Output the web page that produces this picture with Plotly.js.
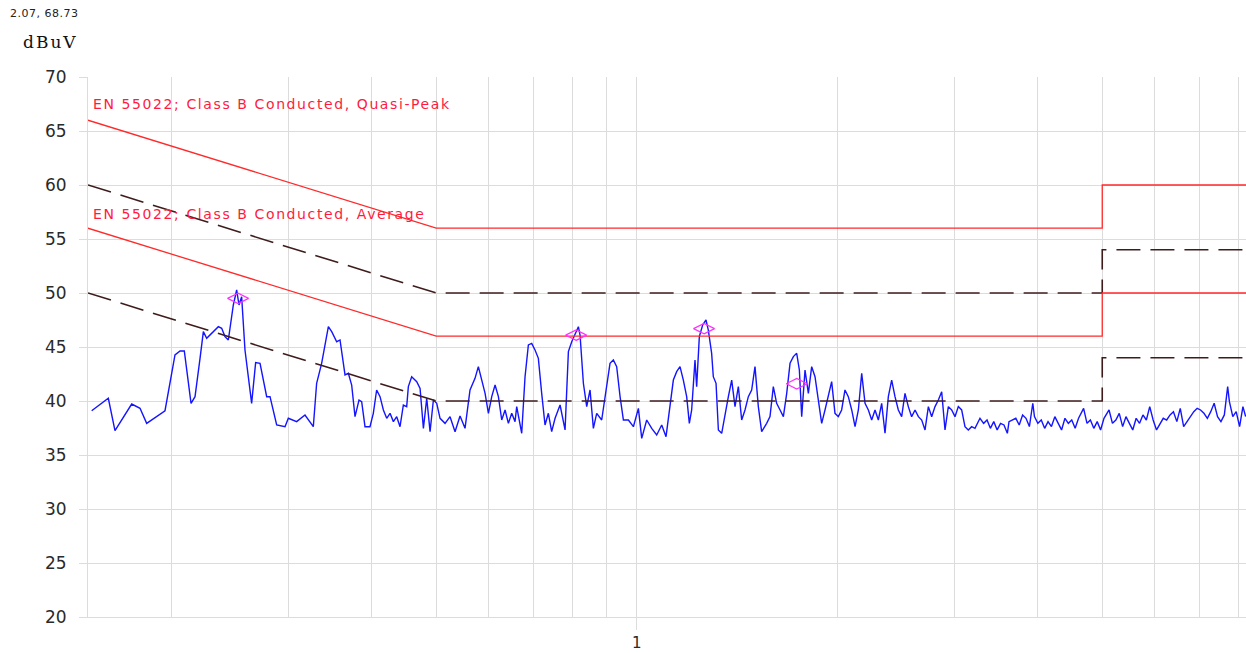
<!DOCTYPE html>
<html><head><meta charset="utf-8">
<script src="https://cdn.plot.ly/plotly-3.0.1.min.js"></script>
<style>
html,body{margin:0;padding:0;background:#fff;}
#chart{width:1246px;height:653px;}
g.annotation[data-index="0"] text{letter-spacing:0.5px;}
g.annotation[data-index="1"] text{letter-spacing:2px;}
g.annotation[data-index="2"] text, g.annotation[data-index="3"] text{letter-spacing:1.6px;}
</style></head><body><div id="chart"></div>
<script>
const band1LogF = [-0.8184,-0.7934,-0.7834,-0.7583,-0.7458,-0.7358,-0.7083,-0.6933,-0.6857,-0.6793,-0.6692,-0.6632,-0.6557,-0.6507,-0.6457,-0.6382,-0.6282,-0.6232,-0.6182,-0.6132,-0.6057,-0.6007,-0.5972,-0.5932,-0.5882,-0.5782,-0.5722,-0.5656,-0.5556,-0.5506,-0.5406,-0.5281,-0.5231,-0.5106,-0.4981,-0.4856,-0.4806,-0.4731,-0.4630,-0.4580,-0.4505,-0.4455,-0.4380,-0.4330,-0.4280,-0.4230,-0.4170,-0.4130,-0.4080,-0.4005,-0.3955,-0.3905];
const band1Level = [39.1,40.25,37.25,39.72,39.32,37.93,39.1,44.26,44.63,44.63,39.78,40.4,43.95,46.42,45.8,46.27,46.88,46.73,45.96,45.65,48.89,50.28,48.89,49.66,44.72,39.78,43.55,43.49,40.4,40.4,37.78,37.62,38.4,38.09,38.7,37.62,41.64,43.49,46.88,46.42,45.49,45.65,42.41,42.56,41.48,38.55,40.09,39.94,37.62,37.62,38.86,41.02];
const band2LogF = [-0.3854,-0.3804,-0.3754,-0.3704,-0.3654,-0.3604,-0.3554,-0.3504,-0.3454,-0.3429,-0.3379,-0.3303,-0.3253,-0.3203,-0.3153,-0.3103,-0.3053,-0.3003,-0.2953,-0.2878,-0.2803,-0.2728,-0.2653,-0.2578,-0.2503,-0.2428,-0.2378,-0.2327,-0.2277,-0.2227,-0.2177,-0.2127,-0.2077,-0.2027,-0.1977,-0.1927,-0.1877,-0.1827,-0.1802,-0.1727,-0.1677,-0.1627,-0.1577,-0.1527,-0.1477,-0.1427,-0.1377,-0.1327,-0.1277,-0.1226,-0.1151,-0.1076,-0.1026,-0.0976,-0.0926,-0.0876,-0.0851,-0.0801,-0.0751,-0.0701,-0.0651,-0.0601,-0.0526,-0.0451,-0.0401,-0.0351,-0.0301,-0.0250,-0.0200,-0.0125,-0.0050,0.0025,0.0075,0.0150,0.0225,0.0300,0.0375,0.0440,0.0500,0.0550,0.0600,0.0650];
const band2Level = [40.40,39.17,38.40,38.86,38.09,38.55,37.62,39.63,39.48,41.33,42.25,41.79,41.17,37.47,40.25,37.16,40.09,39.78,38.40,37.93,38.55,37.16,38.61,37.47,41.02,42.10,43.18,41.94,40.71,38.86,40.40,41.48,40.40,38.24,39.17,37.93,38.86,38.09,39.48,37.01,42.25,45.19,45.34,44.72,43.95,40.71,37.78,38.86,37.16,38.40,39.63,37.32,44.57,45.49,46.27,46.88,46.11,41.64,39.48,41.02,37.47,38.86,38.24,41.33,43.49,43.80,43.18,40.40,38.24,38.24,37.62,39.32,36.54,38.24,37.47,36.85,37.78,36.70,39.78,41.94,42.72,43.18];
const band3LogF = [0.0700,0.0750,0.0790,0.0825,0.0875,0.0900,0.0940,0.0990,0.1040,0.1075,0.1125,0.1150,0.1191,0.1226,0.1276,0.1326,0.1376,0.1426,0.1476,0.1526,0.1576,0.1626,0.1676,0.1726,0.1776,0.1826,0.1876,0.1951,0.2001,0.2051,0.2101,0.2152,0.2202,0.2252,0.2302,0.2352,0.2402,0.2442,0.2477,0.2527,0.2577,0.2627,0.2677,0.2727,0.2777,0.2827,0.2877,0.2927,0.2977,0.3027,0.3077,0.3127,0.3177,0.3228,0.3278,0.3328,0.3378,0.3428,0.3478,0.3528,0.3578,0.3628,0.3678,0.3728,0.3778,0.3828,0.3878,0.3928,0.3978,0.4028,0.4078,0.4128,0.4179,0.4229,0.4279,0.4329,0.4379,0.4429,0.4479,0.4529,0.4579,0.4629,0.4679,0.4729,0.4779,0.4829,0.4879,0.4929,0.4979,0.5029,0.5079,0.5154];
const band3Level = [41.94,40.40,37.93,39.17,43.80,41.33,45.96,47.04,47.50,46.57,44.41,42.25,41.64,37.32,37.01,38.86,40.40,41.94,39.48,41.33,38.24,39.17,40.40,41.02,43.18,39.48,37.16,37.93,38.55,41.33,39.78,39.17,38.55,40.71,43.49,44.11,44.41,42.87,38.55,42.87,40.71,43.18,42.25,40.09,37.93,39.17,40.40,41.79,38.86,38.55,39.17,41.02,40.40,39.17,37.62,39.17,42.56,39.78,39.17,38.24,39.17,38.24,39.78,37.01,40.40,41.94,40.40,39.17,38.55,40.71,39.48,38.55,39.17,38.55,38.24,37.32,39.48,38.55,39.48,40.09,40.86,37.32,39.48,39.17,38.55,39.48,39.17,37.62,37.32,37.62,37.47,38.40];
const band4LogF = [0.5209,0.5260,0.5310,0.5361,0.5412,0.5463,0.5514,0.5565,0.5590,0.5641,0.5692,0.5743,0.5794,0.5845,0.5896,0.5947,0.5972,0.6023,0.6074,0.6125,0.6176,0.6227,0.6278,0.6329,0.6379,0.6430,0.6481,0.6532,0.6583,0.6634,0.6710,0.6761,0.6812,0.6863,0.6914,0.6965,0.7016,0.7092,0.7143,0.7194,0.7245,0.7296,0.7346,0.7397,0.7448,0.7499,0.7550,0.7601,0.7652,0.7703,0.7754,0.7805,0.7855,0.7906,0.7957,0.8008,0.8059,0.8110,0.8161,0.8212,0.8263,0.8314,0.8364,0.8415,0.8466,0.8517,0.8568,0.8619,0.8670,0.8721,0.8772,0.8823,0.8873,0.8899,0.8950,0.9001,0.9052,0.9102,0.9143];
const band4Level = [37.93,38.24,37.47,38.09,37.32,37.93,37.78,37.01,38.09,38.24,38.40,37.78,38.71,38.40,37.63,39.79,38.55,37.93,38.24,37.47,38.09,37.63,38.55,37.93,37.32,38.40,37.93,38.24,37.47,38.40,39.32,37.93,38.24,37.47,38.09,37.32,38.40,39.17,37.93,38.24,38.86,37.63,38.55,37.93,37.32,38.40,37.93,38.71,38.24,39.48,38.24,37.32,37.93,38.40,38.24,38.71,39.01,38.09,39.32,37.63,38.09,38.55,39.01,39.32,39.17,38.86,38.40,39.01,39.79,38.55,38.09,38.71,41.33,39.94,38.55,39.01,37.63,39.48,38.55];

// EN 55022 Class B limits and -6 dB margin lines
const limitFreq = [0.15, 0.5, 5, 5, 30];
const qpLevel = [66, 56, 56, 60, 60];
const avgLevel = [56, 46, 46, 50, 50];
const qpMarginLevel = [60, 50, 50, 54, 54];
const avgMarginLevel = [50, 40, 40, 44, 44];

// Peak markers
const peakFreq = [0.252, 0.811, 1.262, 1.739];
const peakLevel = [49.5, 46.1, 46.7, 41.6];

// Axes
const yTickVals = [20, 25, 30, 35, 40, 45, 50, 55, 60, 65, 70];
const xGridFreq = [0.15, 0.2, 0.3, 0.4, 0.5, 0.6, 0.7, 0.8, 0.9, 2, 3, 4, 5, 6, 7, 8];
const xLabelFreq = [1];
const xLabelText = ['1'];

const toMHz = v => Math.pow(10, v);
const traceFreq = band1LogF.concat(band2LogF, band3LogF, band4LogF).map(toMHz);
const traceLevel = band1Level.concat(band2Level, band3Level, band4Level);

const red = '#ff2a2a';
const dark = '#3f1c1c';
const grid = '#dcdcdc';

const data = [
  {x: traceFreq, y: traceLevel, mode: 'lines', line: {color: '#1414ff', width: 1.4}, hoverinfo: 'skip'},
  {x: limitFreq, y: qpMarginLevel, mode: 'lines', line: {color: dark, width: 1.6, dash: '24px,10px'}},
  {x: limitFreq, y: avgMarginLevel, mode: 'lines', line: {color: dark, width: 1.6, dash: '24px,10px'}},
  {x: limitFreq, y: qpLevel, mode: 'lines', line: {color: red, width: 1.3}},
  {x: limitFreq, y: avgLevel, mode: 'lines', line: {color: red, width: 1.3}},
  {x: peakFreq, y: peakLevel, mode: 'markers', marker: {symbol: 'diamond-wide-open', size: 15, color: '#ff30ff', line: {width: 1.2}}}
];

const layout = {
  width: 1246, height: 653,
  margin: {l: 88, r: 0, t: 77, b: 36},
  paper_bgcolor: '#ffffff', plot_bgcolor: '#ffffff',
  showlegend: false,
  font: {family: 'DejaVu Sans', size: 17, color: '#2a2a2a'},
  xaxis: {
    type: 'log',
    range: [Math.log10(0.15), Math.log10(0.15) + 1158 / 666],
    tickmode: 'array', tickvals: xLabelFreq, ticktext: xLabelText,
    ticks: 'outside', ticklen: 12, tickcolor: grid, tickwidth: 1,
    showgrid: true, gridcolor: grid, gridwidth: 1,
    minor: {tickmode: 'array', tickvals: xGridFreq, showgrid: true, gridcolor: grid, gridwidth: 1, ticks: ''},
    showline: true, linecolor: grid, linewidth: 1,
    zeroline: false, fixedrange: true,
    tickfont: {family: 'DejaVu Sans', size: 15, color: '#2a2a2a'}
  },
  yaxis: {
    range: [20, 70],
    tickmode: 'array', tickvals: yTickVals,
    ticks: 'outside', ticklen: 8, tickcolor: grid, tickwidth: 1,
    ticklabelstandoff: 9,
    showgrid: true, gridcolor: grid, gridwidth: 1,
    showline: true, linecolor: grid, linewidth: 1,
    zeroline: false, fixedrange: true,
    tickfont: {family: 'DejaVu Sans', size: 17, color: '#2a2a2a'}
  },
  annotations: [
    {text: '2.07, 68.73', xref: 'paper', yref: 'paper', x: (8 - 88) / 1158, y: (617 - 14) / 540,
     xanchor: 'left', yanchor: 'middle', align: 'left', showarrow: false, font: {family: 'DejaVu Sans', size: 11, color: '#222'}},
    {text: 'dBuV', xref: 'paper', yref: 'paper', x: (21 - 88) / 1158, y: (617 - 42) / 540,
     xanchor: 'left', yanchor: 'middle', align: 'left', showarrow: false, font: {family: 'DejaVu Serif', size: 17, color: '#111'}},
    {text: 'EN 55022; Class B Conducted, Quasi-Peak', xref: 'paper', yref: 'paper', x: (91 - 88) / 1158, y: (617 - 104) / 540,
     xanchor: 'left', yanchor: 'middle', align: 'left', showarrow: false, font: {family: 'DejaVu Sans', size: 14, color: '#ff1a40'}},
    {text: 'EN 55022; Class B Conducted, Average', xref: 'paper', yref: 'paper', x: (91 - 88) / 1158, y: (617 - 214) / 540,
     xanchor: 'left', yanchor: 'middle', align: 'left', showarrow: false, font: {family: 'DejaVu Sans', size: 14, color: '#ff1a40'}}
  ]
};

Plotly.newPlot('chart', data, layout, {displayModeBar: false, staticPlot: true});
</script></body></html>
